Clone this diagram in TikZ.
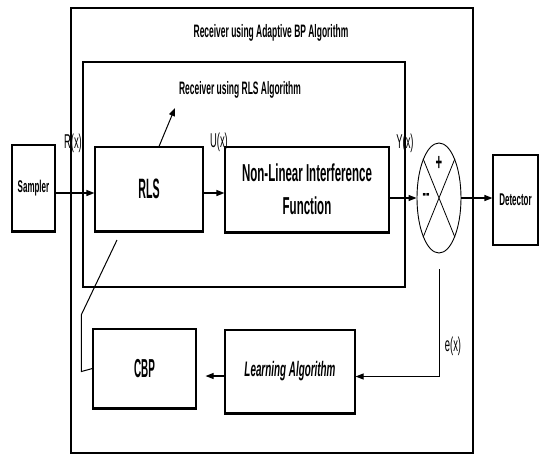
\documentclass[tikz,border=0pt]{standalone}
\usepackage{fontspec}
\newfontfamily\narrowsf{Liberation Sans}[FakeStretch=0.47]
\newfontfamily\tallsf{Liberation Sans}[FakeStretch=0.38]
\newcommand\fsz[1]{\fontsize{#1}{#1}\selectfont}
\usetikzlibrary{arrows.meta,shapes.geometric}

\begin{document}
\begin{tikzpicture}[>={Triangle[length=8pt,width=6pt]}, x=1pt, y=-1pt,
                    font=\narrowsf\bfseries,
                    blk/.style={draw, line width=1.1pt, inner sep=0pt},
                    sig/.style={->, line width=1.2pt},
                    lbl/.style={font=\narrowsf\fsz{20}}]
  \useasboundingbox (0,0) rectangle (539,456);
  \def\ya{193}   % signal level, sampler to interference function
  \coordinate (lev) at (0,\ya);
  % receiver frames
  \node[blk, minimum width=402pt, minimum height=445pt] (abp) at (272,230.5) {};
  \node[blk, minimum width=322pt, minimum height=225pt] (rlsr) at (244,174.5) {};
  \node[font=\narrowsf\bfseries\fsz{18}] (tabp) at (271,33) {Receiver using Adaptive BP Algorithm};
  \node[font=\narrowsf\bfseries\fsz{18}] (trls) at (240,90) {Receiver using RLS Algorithm};
  % blocks of the forward path
  \node[blk, minimum width=43pt, minimum height=86pt, font=\narrowsf\bfseries\fsz{17}] (smp) at (33.5,188) {Sampler};
  \node[blk, minimum width=108pt, minimum height=84pt, font=\tallsf\bfseries\fsz{28}] (rls) at (149,189) {RLS};
  \node[blk, minimum width=164pt, minimum height=85pt, align=center,
        font=\narrowsf\bfseries\fontsize{24.5}{33}\selectfont] (nlf) at (307,189.5) {Non-Linear Interference\\Function};
  \node[draw, ellipse, line width=0.9pt, minimum width=44pt, minimum height=110pt, inner sep=0pt] (sum) at (439,198) {};
  \draw[line width=0.8pt] (sum.north west) -- (sum.south east) (sum.north east) -- (sum.south west);
  \node[font=\narrowsf\bfseries\fsz{24}] (plus) at (439,163) {+};
  \node[font=\narrowsf\bfseries\fsz{22}] (minus) at (426,197) {--};
  \node[blk, minimum width=45pt, minimum height=90pt, font=\narrowsf\bfseries\fsz{17}] (det) at (515.5,200) {Detector};
  % blocks of the learning path
  \node[blk, minimum width=103pt, minimum height=79pt, font=\tallsf\bfseries\fsz{26}] (cbp) at (144.5,368.5) {CBP};
  \node[blk, minimum width=130pt, minimum height=83pt, font=\narrowsf\bfseries\itshape\fsz{21}] (lrn) at (290,371.5) {Learning Algorithm};
  \foreach \b in {smp,rls,nlf} \draw[line width=2.5pt] (\b.south west) -- (\b.south east);
  \foreach \b in {cbp,lrn} \draw[line width=3.5pt] (\b.south west) -- (\b.south east);
  % signal path
  \draw[sig] (smp.east |- lev) -- (rls.west |- lev);
  \draw[sig] (rls.east |- lev) -- (nlf.west |- lev);
  \draw[sig] (nlf.east |- sum.west) -- (sum.west);
  \draw[sig] (sum.east) -- (det.west |- sum.east);
  \node[lbl] (lr) at (73,143) {R(x)};
  \node[lbl] (lu) at (219,142) {U(x)};
  \node[lbl] (ly) at (405,143) {Y(x)};
  % error feedback and adaptation
  \coordinate (efb) at (439,269);
  \coordinate (fb) at ([yshift=-5pt]lrn.east);
  \draw[->, line width=1pt] (efb) |- (fb);
  \node[lbl] (le) at (453,346) {e(x)};
  \coordinate (cb) at ([yshift=-4.5pt]lrn.west);
  \draw[->, line width=1.1pt, shorten >=9pt] (cb) -- (cb -| cbp.east);
  \coordinate (adp) at (117,240);
  \draw[line width=1pt] (cbp.west) -- ++(-11,3) -- ++(0,-57) -- (adp);
  \coordinate (tip) at (175,108);
  \draw[->, line width=1pt] ([xshift=10pt]rls.north) -- (tip);
\end{tikzpicture}
\end{document}
